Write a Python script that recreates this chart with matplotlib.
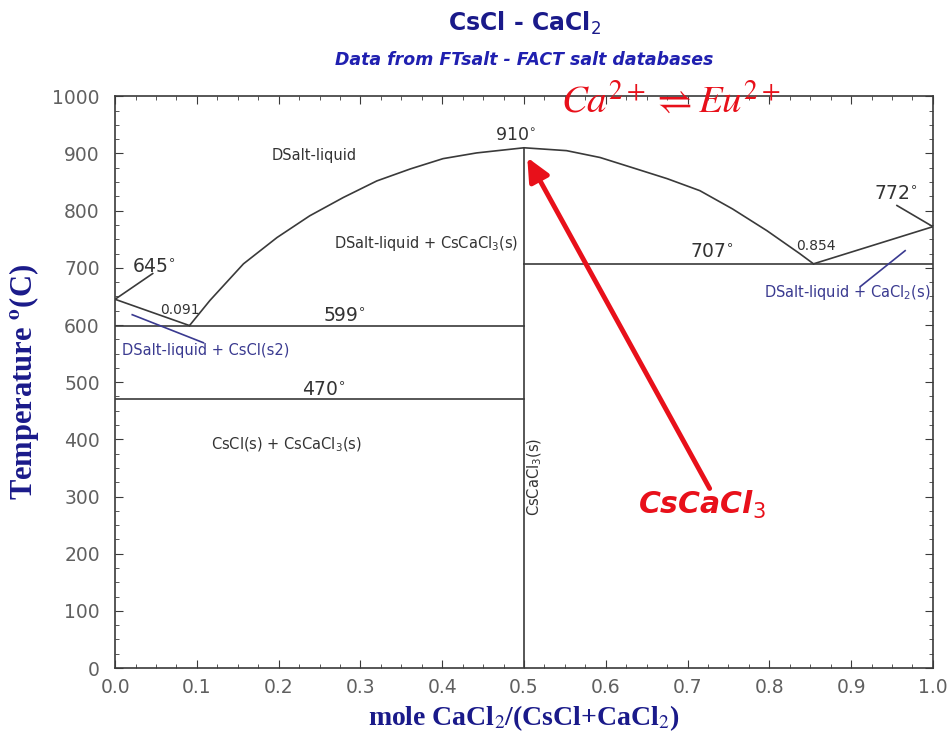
import matplotlib
matplotlib.use("Agg")
import matplotlib.pyplot as plt
from matplotlib.ticker import AutoMinorLocator

# ---- data ----
liq_left_x = [0.0, 0.091]
liq_left_T = [645, 599]
liq_mid_x = [0.091, 0.116, 0.157, 0.198, 0.238, 0.279, 0.320, 0.361, 0.401, 0.442, 0.5,
             0.552, 0.593, 0.633, 0.675, 0.715, 0.755, 0.797, 0.837, 0.854]
liq_mid_T = [599, 643, 707, 753, 791, 823, 852, 873, 891, 901, 910,
             905, 893, 875, 856, 835, 803, 765, 725, 707]
liq_right_x = [0.854, 1.0]
liq_right_T = [707, 772]
eut1_T, eut2_T, eut3_T = 599, 470, 707
compound_x, compound_T = 0.5, 910
xticks = [0.0, 0.1, 0.2, 0.3, 0.4, 0.5, 0.6, 0.7, 0.8, 0.9, 1.0]
yticks = list(range(0, 1001, 100))

title_col = "#1a1a8a"
line_col = "#3a3a3a"
blue_lab = "#3a3a90"
red = "#e8101a"

fig = plt.figure(figsize=(9.51, 7.41), dpi=100)
ax = fig.add_axes([0.121, 0.0985, 0.860, 0.7715])

kw = dict(color=line_col, lw=1.2)
ax.plot(liq_left_x, liq_left_T, **kw)
ax.plot(liq_mid_x, liq_mid_T, **kw)
ax.plot(liq_right_x, liq_right_T, **kw)
ax.plot([0, compound_x], [eut1_T, eut1_T], **kw)
ax.plot([0, compound_x], [eut2_T, eut2_T], **kw)
ax.plot([compound_x, 1.0], [eut3_T, eut3_T], **kw)
ax.plot([compound_x, compound_x], [0, compound_T], **kw)

ax.set_xlim(0, 1.0)
ax.set_ylim(0, 1000)
ax.set_xticks(xticks)
ax.set_xticklabels([f"{v:.1f}" for v in xticks])
ax.set_yticks(yticks)
ax.xaxis.set_minor_locator(AutoMinorLocator(4))
ax.yaxis.set_minor_locator(AutoMinorLocator(4))
ax.tick_params(which="both", direction="in", top=True, right=True, colors=line_col,
               labelcolor="#606060", labelsize=13.5)
ax.tick_params(which="major", length=6)
ax.tick_params(which="minor", length=3)
for s in ax.spines.values():
    s.set_color(line_col)
    s.set_linewidth(1.2)
ax.tick_params(axis="x", pad=7)
ax.tick_params(axis="y", pad=11)
for lab in ax.get_xticklabels() + ax.get_yticklabels():
    lab.set_family(["DejaVu Sans"])

# leader lines
ax.plot([0.0, 0.046], [645, 690], **kw)
ax.plot([1.0, 0.956], [772, 809], **kw)
ax.plot([0.021, 0.108], [618, 569], color=blue_lab, lw=1.2)
ax.plot([0.911, 0.966], [667, 730], color=blue_lab, lw=1.2)

lab_kw = dict(family=["DejaVu Sans"], color="#333333", ha="center", va="center")
ax.text(0.048, 702, "645$^{\\circ}$", fontsize=13.5, **lab_kw)
ax.text(0.079, 626, "0.091", fontsize=10, **lab_kw)
ax.text(0.28, 617, "599$^{\\circ}$", fontsize=13.5, **lab_kw)
ax.text(0.255, 488, "470$^{\\circ}$", fontsize=13.5, **lab_kw)
ax.text(0.49, 933, "910$^{\\circ}$", fontsize=12.5, **lab_kw)
ax.text(0.73, 728, "707$^{\\circ}$", fontsize=13.5, **lab_kw)
ax.text(0.857, 739, "0.854", fontsize=10, **lab_kw)
ax.text(0.955, 830, "772$^{\\circ}$", fontsize=13.5, **lab_kw)

ax.text(0.244, 896, "DSalt-liquid", fontsize=10.5, **lab_kw)
ax.text(0.38, 742, "DSalt-liquid + CsCaCl$_3$(s)", fontsize=10.5, **lab_kw)
ax.text(0.21, 390, "CsCl(s) + CsCaCl$_3$(s)", fontsize=10.5, **lab_kw)
ax.text(0.513, 335, "CsCaCl$_3$(s)", fontsize=10.5, rotation=90, **lab_kw)
blue_kw = dict(lab_kw)
blue_kw["color"] = blue_lab
ax.text(0.111, 555, "DSalt-liquid + CsCl(s2)", fontsize=10.5, **blue_kw)
ax.text(0.895, 657, "DSalt-liquid + CaCl$_2$(s)", fontsize=10.5, **blue_kw)

# red annotations
ax.annotate("", xy=(0.504, 893), xytext=(0.727, 314),
            arrowprops=dict(arrowstyle="-|>,head_length=1.4,head_width=0.65",
                            color=red, lw=3.5, shrinkA=0, shrinkB=0))
ax.text(0.717, 285, "CsCaCl$_3$", fontsize=21.5, color=red, fontweight="bold",
        fontstyle="italic", ha="center", va="center", family=["DejaVu Sans"],
        math_fontfamily="dejavusans")
ax.text(0.68, 990, r"$Ca^{2+} \rightleftharpoons Eu^{2+}$", fontsize=28, color=red,
        ha="center", va="center", math_fontfamily="stix")

# titles
fig.text(0.552, 0.968, "CsCl - CaCl$_2$", fontsize=17, fontweight="bold",
         color=title_col, ha="center", va="center", family=["DejaVu Sans"],
         math_fontfamily="dejavusans")
fig.text(0.551, 0.919, "Data from FTsalt - FACT salt databases", fontsize=12.5,
         fontweight="bold", fontstyle="italic", color="#2020b0", ha="center",
         va="center", family=["DejaVu Sans"])

ax.set_xlabel("mole CaCl$_2$/(CsCl+CaCl$_2$)", fontsize=20, fontweight="bold",
              color=title_col, family=["Liberation Serif"], labelpad=5,
              math_fontfamily="stix")
ax.set_ylabel("Temperature $^{\\mathbf{o}}$(C)", fontsize=22, fontweight="bold",
              color=title_col, family=["Liberation Serif"], labelpad=8,
              math_fontfamily="stix")

fig.savefig("out.png", dpi=100)
